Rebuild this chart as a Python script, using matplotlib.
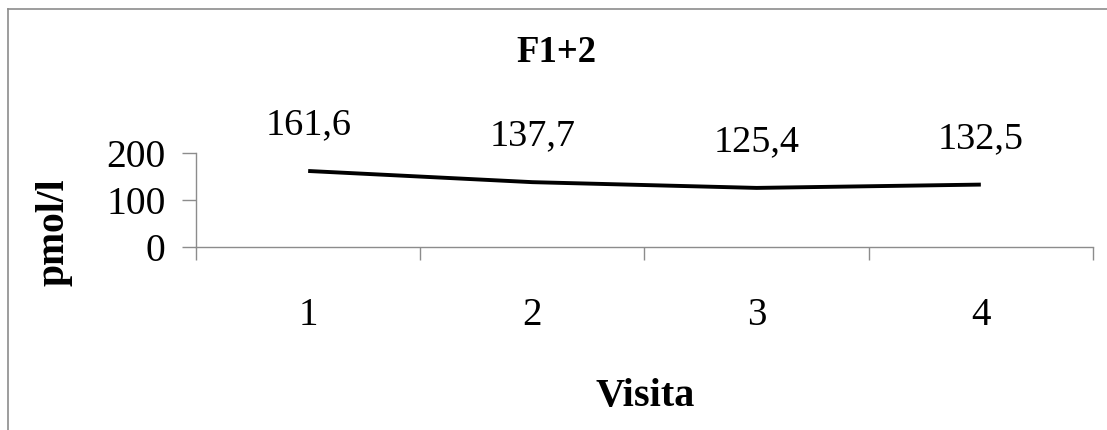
import matplotlib
matplotlib.use('Agg')
import matplotlib.pyplot as plt
from matplotlib.lines import Line2D

# F1+2 levels per visit
visits = ['1', '2', '3', '4']
f12 = [161.6, 137.7, 125.4, 132.5]
labels = ['161,6', '137,7', '125,4', '132,5']
yticks = [0, 100, 200]

plt.rcParams['font.family'] = ['Liberation Serif', 'DejaVu Serif']
grey = '#8c8c8c'

fig = plt.figure(figsize=(11.07, 4.30), dpi=100)
ax = fig.add_axes([0.1771, 0.4267, 0.8102, 0.2174])

x = list(range(1, len(visits) + 1))
ax.plot(x, f12, color='black', lw=2.8, solid_capstyle='butt')
for xi, v, s in zip(x, f12, labels):
    ax.annotate(s, (xi, v), xytext=(0, 33), textcoords='offset points',
                ha='center', va='center', fontsize=27.5)

ax.set_xlim(0.5, len(visits) + 0.5)
ax.set_ylim(0, 200)
ax.set_yticks(yticks)
ax.set_yticklabels([str(t) for t in yticks])
# category ticks sit between the visits, labels in the middle
ax.set_xticks([i + 0.5 for i in range(len(visits) + 1)])
ax.set_xticklabels([])
ax.set_xticks(x, minor=True)
ax.set_xticklabels(visits, minor=True)
ax.tick_params(axis='x', which='minor', length=0, pad=36, labelsize=28)
ax.tick_params(axis='x', which='major', length=9, width=1, color=grey, direction='out')
ax.tick_params(axis='y', length=10, width=1, color=grey, pad=12, labelsize=28.5)

for side in ('top', 'right'):
    ax.spines[side].set_visible(False)
for side in ('left', 'bottom'):
    ax.spines[side].set_color(grey)
    ax.spines[side].set_linewidth(1)
ax.patch.set_visible(False)

fig.text(0.503, 0.877, 'F1+2', ha='center', va='center', fontsize=26.5, fontweight='bold')
fig.text(0.5827, 0.079, 'Visita', ha='center', va='center', fontsize=29, fontweight='bold')
fig.text(0.049, 0.46, 'pmol/l', ha='center', va='center', rotation=90,
         fontsize=28.5, fontweight='bold')

# chart frame
fig.add_artist(Line2D([0.0072, 1.0], [0.979, 0.979], color=grey, lw=1.2))
fig.add_artist(Line2D([0.0072, 0.0072], [0.0, 0.979], color=grey, lw=1.2))

fig.savefig('out.png', dpi=100)
